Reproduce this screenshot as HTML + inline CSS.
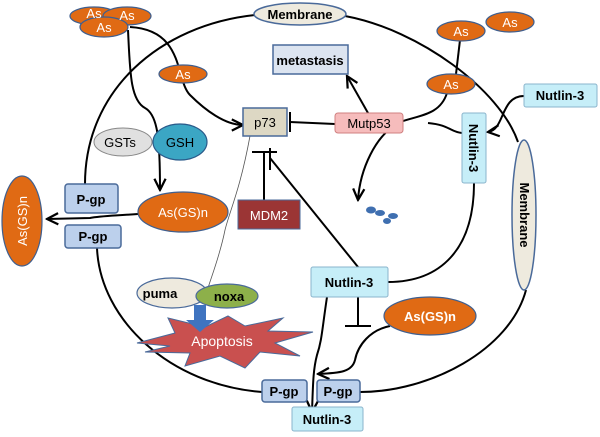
<!DOCTYPE html>
<html><head><meta charset="utf-8"><style>body{margin:0;background:#fff}svg{display:block}text{font-family:"Liberation Sans",sans-serif}</style></head>
<body>
<svg width="600" height="437" viewBox="0 0 600 437" xmlns="http://www.w3.org/2000/svg">
<defs>
<marker id="a" viewBox="0 0 10 10" refX="9" refY="5" markerWidth="7" markerHeight="7" orient="auto"><path d="M1,1 L9,5 L1,9" fill="none" stroke="#000" stroke-width="1.6"/></marker>
</defs>
<g fill="none" stroke="#000" stroke-width="2">
<!-- cell membrane -->
<path d="M255,15 C160,25 85,90 85,184"/>
<path d="M345,16 C420,30 500,90 518,142"/>
<path d="M526,290 C510,350 430,392 360,392"/>
<path d="M262,392 C170,385 100,320 97,248"/>
<!-- As to p73 -->
<path d="M130,27 C185,30 175,80 190,95 C205,110 225,125 243,125" marker-end="url(#a)"/>
<!-- As cluster to As(GS)n -->
<path d="M128,30 C130,70 130,100 145,108 C158,115 160,140 160,190" marker-end="url(#a)"/>
<!-- As(GS)n to left -->
<path d="M138,214 C110,216 100,216 90,218 L47,219" marker-end="url(#a)"/>
<!-- Mutp53 -> metastasis -->
<path d="M368,113 L347,76" marker-end="url(#a)"/>
<!-- Mutp53 inhibits p73 -->
<path d="M335,124 L290,122"/><path d="M290,112 L290,132"/>
<!-- As right chain -->
<path d="M460,40 L456,74"/>
<path d="M447,93 C440,115 420,115 400,122 C375,135 360,170 358,200" marker-end="url(#a)"/>
<path d="M428,123 C450,125 450,132 462,133"/>
<!-- Nutlin right to vertical -->
<path d="M524,96 C500,96 505,130 488,132" marker-end="url(#a)"/>
<!-- vertical Nutlin down to mid Nutlin -->
<path d="M474,183 C474,250 440,282 388,282"/>
<!-- MDM2 inhibit p73 -->
<path d="M264,200 L264,153"/><path d="M252,152 L277,152"/>
<!-- Nutlin mid inhibit -->
<path d="M358,267 L270,158"/><path d="M270,148 L270,170"/>
<path d="M358,297 L358,326"/><path d="M345,326 L371,326"/>
<!-- Nutlin mid to bottom -->
<path d="M327,297 C322,330 322,340 317,355 C313,370 313,385 312,412" marker-end="url(#a)"/>
<!-- As(GS)n right to Pgp -->
<path d="M390,326 C370,330 358,345 355,360 C352,372 340,373 318,374" marker-end="url(#a)"/>
</g>
<!-- thin line p73 -> noxa -->
<path d="M250,136 C240,190 230,210 225,230 C220,255 212,275 208,288" fill="none" stroke="#555" stroke-width="0.8"/>
<!-- Membrane top -->
<ellipse cx="300" cy="14" rx="46" ry="11" fill="#eeeade" stroke="#4a6a9a" stroke-width="1.5"/>
<text x="300" y="19" font-size="13" font-weight="bold" text-anchor="middle">Membrane</text>
<!-- As top left -->
<g fill="#e06a14" stroke="#3f5f8f" stroke-width="1.2">
<ellipse cx="94" cy="16" rx="24" ry="9"/><ellipse cx="127" cy="16" rx="24" ry="9"/><ellipse cx="104" cy="27" rx="24" ry="10"/>
<ellipse cx="183" cy="74" rx="24" ry="9"/>
<ellipse cx="510" cy="22" rx="24" ry="10"/><ellipse cx="461" cy="31" rx="24" ry="10"/>
<ellipse cx="451" cy="84" rx="24" ry="10"/>
</g>
<g fill="#fff" font-size="13" text-anchor="middle">
<text x="94" y="18">As</text><text x="127" y="20">As</text><text x="104" y="32">As</text>
<text x="183" y="79">As</text><text x="510" y="27">As</text><text x="461" y="36">As</text><text x="451" y="89">As</text>
</g>
<!-- metastasis -->
<rect x="273" y="45" width="75" height="29" fill="#dce4f0" stroke="#4a6a9a" stroke-width="1.5"/>
<text x="310" y="65" font-size="13" font-weight="bold" text-anchor="middle">metastasis</text>
<!-- p73 -->
<rect x="243" y="108" width="44" height="28" fill="#ddd8c4" stroke="#4a6a9a" stroke-width="1.5"/>
<text x="265" y="127" font-size="13" text-anchor="middle">p73</text>
<!-- Mutp53 -->
<rect x="335" y="113" width="68" height="20" rx="3" fill="#f6bcbc" stroke="#d08080" stroke-width="1"/>
<text x="369" y="128" font-size="13" text-anchor="middle">Mutp53</text>
<!-- GSTs GSH -->
<ellipse cx="123" cy="142" rx="29" ry="14" fill="#e0e0e0" stroke="#888" stroke-width="1"/>
<text x="120" y="147" font-size="13" text-anchor="middle">GSTs</text>
<ellipse cx="180" cy="142" rx="27" ry="18" fill="#3ba6c4" stroke="#2a5a8a" stroke-width="1.2"/>
<text x="180" y="147" font-size="13" text-anchor="middle">GSH</text>
<!-- As(GS)n mid -->
<ellipse cx="183" cy="212" rx="45" ry="20" fill="#e06a14" stroke="#3f5f8f" stroke-width="1.2"/>
<text x="183" y="217" font-size="13" fill="#fff" text-anchor="middle">As(GS)n</text>
<!-- MDM2 -->
<rect x="238" y="200" width="62" height="29" fill="#9b3535" stroke="#4a6a9a" stroke-width="1"/>
<text x="269" y="220" font-size="13" fill="#fff" text-anchor="middle">MDM2</text>
<!-- Pgp left -->
<g fill="#bcd0ec" stroke="#4a6a9a" stroke-width="1.5">
<rect x="65" y="184" width="53" height="29" rx="3"/><rect x="65" y="225" width="56" height="23" rx="3"/>
<rect x="262" y="380" width="45" height="22" rx="3"/><rect x="317" y="380" width="43" height="22" rx="3"/>
</g>
<g font-size="13" font-weight="bold" text-anchor="middle">
<text x="91" y="204">P-gp</text><text x="93" y="241">P-gp</text>
<text x="284" y="396">P-gp</text><text x="338" y="396">P-gp</text>
</g>
<!-- As(GS)n left vertical -->
<ellipse cx="22" cy="221" rx="20" ry="45" fill="#e06a14" stroke="#3f5f8f" stroke-width="1.2"/>
<text x="0" y="0" font-size="13" fill="#fff" text-anchor="middle" transform="translate(27,221) rotate(-90)">As(GS)n</text>
<!-- Nutlin boxes -->
<g fill="#c6eef8" stroke="#8ab4cc" stroke-width="1">
<rect x="524" y="84" width="73" height="23" rx="2"/>
<rect x="462" y="113" width="24" height="70" rx="2"/>
<rect x="311" y="267" width="77" height="30" rx="2"/>
<rect x="292" y="407" width="71" height="24" rx="2"/>
</g>
<g font-size="13" font-weight="bold" text-anchor="middle">
<text x="560" y="100">Nutlin-3</text>
<text x="349" y="287">Nutlin-3</text>
<text x="327" y="424">Nutlin-3</text>
<text x="0" y="0" transform="translate(469,148) rotate(90)">Nutlin-3</text>
</g>
<!-- Membrane vertical -->
<ellipse cx="524" cy="215" rx="12" ry="75" fill="#eeeade" stroke="#4a6a9a" stroke-width="1.5"/>
<text x="0" y="0" font-size="13" font-weight="bold" text-anchor="middle" transform="translate(520,215) rotate(90)">Membrane</text>
<!-- dots -->
<g fill="#3f6fb0">
<ellipse cx="371" cy="210" rx="5" ry="3.5"/><ellipse cx="380" cy="213" rx="5" ry="3"/><ellipse cx="393" cy="216" rx="5" ry="3"/><ellipse cx="387" cy="221" rx="4" ry="3"/>
</g>
<!-- As(GS)n right -->
<ellipse cx="430" cy="316" rx="46" ry="19" fill="#e06a14" stroke="#3f5f8f" stroke-width="1.2"/>
<text x="430" y="321" font-size="13" font-weight="bold" fill="#fff" text-anchor="middle">As(GS)n</text>
<!-- Apoptosis star -->
<polygon points="137,343 175,333 168,318 205,327 228,316 245,326 283,318 268,331 313,332 275,343 300,356 260,352 245,368 220,356 185,366 190,353 145,352 170,346" fill="#c9504f" stroke="#4a6a9a" stroke-width="1"/>
<text x="222" y="346" font-size="14" fill="#fff" text-anchor="middle">Apoptosis</text>
<!-- blue arrow -->
<polygon points="194,305 206,305 206,320 214,320 200,332 186,320 194,320" fill="#3f74c0"/>
<!-- puma noxa -->
<ellipse cx="172" cy="293" rx="35" ry="15" fill="#eeeade" stroke="#4a6a9a" stroke-width="1.2"/>
<text x="160" y="298" font-size="13" font-weight="bold" text-anchor="middle">puma</text>
<ellipse cx="227" cy="296" rx="31" ry="12" fill="#8db04a" stroke="#4a6a9a" stroke-width="1.2"/>
<text x="229" y="301" font-size="13" font-weight="bold" text-anchor="middle">noxa</text>
</svg>
</body></html>
